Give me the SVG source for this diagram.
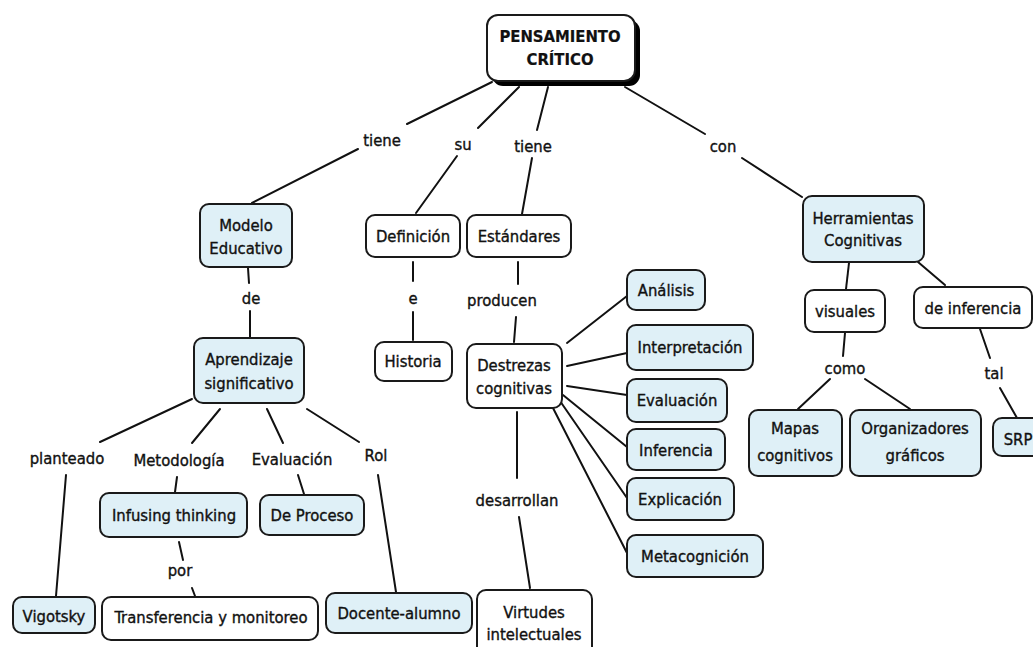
<svg xmlns="http://www.w3.org/2000/svg" width="1033" height="647" viewBox="0 0 1033 647">
<style>
  text { font-family: "DejaVu Sans Condensed", "DejaVu Sans", "Liberation Sans", sans-serif; font-stretch: condensed; font-size: 16.5px; fill: #111; stroke: #111; stroke-width: 0.35; text-anchor: middle; }
  .title { font-weight: bold; stroke-width: 0.2; }
  .n { fill: #ffffff; stroke: #1a1a1a; stroke-width: 2; }
  .b { fill: #dff0f7; stroke: #1a1a1a; stroke-width: 2; }
  .shadow { fill: #000; }
  #connectors line { stroke: #111; stroke-width: 2; stroke-linecap: round; }
</style>
<rect width="1033" height="647" fill="#ffffff"/>
<g id="connectors">
  <line x1="492" y1="82" x2="407" y2="124"/>
  <line x1="358" y1="149" x2="252" y2="203"/>
  <line x1="519" y1="87" x2="478" y2="128"/>
  <line x1="457" y1="156" x2="416" y2="213"/>
  <line x1="548" y1="87" x2="537" y2="130"/>
  <line x1="532" y1="158" x2="522" y2="214"/>
  <line x1="625" y1="87" x2="705" y2="134"/>
  <line x1="742" y1="158" x2="802" y2="197"/>
  <line x1="248" y1="268" x2="249" y2="283"/>
  <line x1="250" y1="311" x2="250" y2="337"/>
  <line x1="413" y1="262" x2="413" y2="281"/>
  <line x1="413" y1="312" x2="413" y2="340"/>
  <line x1="518" y1="262" x2="518" y2="284"/>
  <line x1="516" y1="317" x2="514" y2="342"/>
  <line x1="517" y1="412" x2="517" y2="478"/>
  <line x1="519" y1="517" x2="530" y2="588"/>
  <line x1="567" y1="343" x2="627" y2="296"/>
  <line x1="567" y1="366" x2="627" y2="353"/>
  <line x1="567" y1="386" x2="627" y2="395"/>
  <line x1="563" y1="395" x2="627" y2="447"/>
  <line x1="560" y1="401" x2="627" y2="498"/>
  <line x1="553" y1="408" x2="627" y2="553"/>
  <line x1="192" y1="399" x2="100" y2="442"/>
  <line x1="220" y1="409" x2="192" y2="443"/>
  <line x1="267" y1="409" x2="283" y2="443"/>
  <line x1="307" y1="409" x2="359" y2="442"/>
  <line x1="66" y1="475" x2="56" y2="596"/>
  <line x1="177" y1="477" x2="175" y2="492"/>
  <line x1="298" y1="475" x2="304" y2="494"/>
  <line x1="378" y1="475" x2="396" y2="592"/>
  <line x1="179" y1="542" x2="183" y2="560"/>
  <line x1="192" y1="588" x2="195" y2="596"/>
  <line x1="849" y1="263" x2="846" y2="289"/>
  <line x1="918" y1="262" x2="945" y2="285"/>
  <line x1="845" y1="333" x2="843" y2="356"/>
  <line x1="830" y1="379" x2="798" y2="409"/>
  <line x1="865" y1="379" x2="910" y2="409"/>
  <line x1="980" y1="329" x2="990" y2="358"/>
  <line x1="1000" y1="388" x2="1017" y2="418"/>
  <text x="382" y="146">tiene</text>
  <text x="463" y="150">su</text>
  <text x="533" y="152">tiene</text>
  <text x="723" y="152">con</text>
  <text x="251" y="304">de</text>
  <text x="413" y="304">e</text>
  <text x="502" y="306">producen</text>
  <text x="517" y="506">desarrollan</text>
  <text x="67" y="464">planteado</text>
  <text x="179" y="466">Metodología</text>
  <text x="292" y="465">Evaluación</text>
  <text x="376" y="461">Rol</text>
  <text x="180" y="576">por</text>
  <text x="845" y="374">como</text>
  <text x="994" y="379">tal</text>
</g>
<g id="pensamiento">
  <rect class="shadow" x="492" y="20" width="148" height="66" rx="11"/>
  <rect class="n" x="487" y="15" width="148" height="66" rx="11"/>
  <text class="title" x="560" y="42">PENSAMIENTO</text>
  <text class="title" x="560" y="65">CRÍTICO</text>
</g>
<g id="modelo">
  <rect class="b" x="200" y="204" width="92" height="63" rx="9"/>
  <text x="246" y="231">Modelo</text>
  <text x="246" y="254">Educativo</text>
</g>
<g id="definicion">
  <rect class="n" x="366" y="215" width="94" height="42" rx="9"/>
  <text x="413" y="242">Definición</text>
</g>
<g id="estandares">
  <rect class="n" x="467" y="215" width="104" height="42" rx="9"/>
  <text x="519" y="242">Estándares</text>
</g>
<g id="historia">
  <rect class="n" x="375" y="342" width="77" height="39" rx="9"/>
  <text x="413" y="367">Historia</text>
</g>
<g id="aprendizaje">
  <rect class="b" x="194" y="338" width="110" height="65" rx="9"/>
  <text x="249" y="365">Aprendizaje</text>
  <text x="249" y="389">significativo</text>
</g>
<g id="destrezas">
  <rect class="n" x="467" y="344" width="95" height="64" rx="9"/>
  <text x="514" y="371">Destrezas</text>
  <text x="514" y="394">cognitivas</text>
</g>
<g id="analisis">
  <rect class="b" x="627" y="270" width="78" height="40" rx="9"/>
  <text x="666" y="296">Análisis</text>
</g>
<g id="interpretacion">
  <rect class="b" x="627" y="325" width="126" height="45" rx="9"/>
  <text x="690" y="353">Interpretación</text>
</g>
<g id="evaluacion">
  <rect class="b" x="627" y="379" width="100" height="43" rx="9"/>
  <text x="677" y="406">Evaluación</text>
</g>
<g id="inferencia">
  <rect class="b" x="627" y="429" width="98" height="41" rx="9"/>
  <text x="676" y="456">Inferencia</text>
</g>
<g id="explicacion">
  <rect class="b" x="627" y="478" width="107" height="42" rx="9"/>
  <text x="680" y="505">Explicación</text>
</g>
<g id="metacognicion">
  <rect class="b" x="627" y="535" width="136" height="42" rx="9"/>
  <text x="695" y="562">Metacognición</text>
</g>
<g id="virtudes">
  <rect class="n" x="477" y="590" width="115" height="72" rx="9"/>
  <text x="534" y="618">Virtudes</text>
  <text x="534" y="640">intelectuales</text>
</g>
<g id="herramientas">
  <rect class="b" x="803" y="196" width="121" height="66" rx="9"/>
  <text x="863" y="224">Herramientas</text>
  <text x="863" y="246">Cognitivas</text>
</g>
<g id="visuales">
  <rect class="n" x="805" y="290" width="80" height="42" rx="9"/>
  <text x="845" y="317">visuales</text>
</g>
<g id="deinferencia">
  <rect class="n" x="914" y="287" width="118" height="41" rx="9"/>
  <text x="973" y="314">de inferencia</text>
</g>
<g id="mapas">
  <rect class="b" x="749" y="410" width="93" height="66" rx="9"/>
  <text x="795" y="434">Mapas</text>
  <text x="795" y="461">cognitivos</text>
</g>
<g id="organizadores">
  <rect class="b" x="850" y="410" width="131" height="66" rx="9"/>
  <text x="915" y="434">Organizadores</text>
  <text x="915" y="461">gráficos</text>
</g>
<g id="srp">
  <rect class="b" x="993" y="418" width="60" height="38" rx="9"/>
  <text x="1018" y="445">SRP</text>
</g>
<g id="infusing">
  <rect class="b" x="100" y="493" width="147" height="44" rx="9"/>
  <text x="174" y="521">Infusing thinking</text>
</g>
<g id="deproceso">
  <rect class="b" x="260" y="495" width="104" height="40" rx="9"/>
  <text x="312" y="521">De Proceso</text>
</g>
<g id="vigotsky">
  <rect class="b" x="13" y="597" width="82" height="36" rx="9"/>
  <text x="54" y="622">Vigotsky</text>
</g>
<g id="transferencia">
  <rect class="n" x="102" y="597" width="216" height="43" rx="9"/>
  <text x="211" y="623">Transferencia y monitoreo</text>
</g>
<g id="docente">
  <rect class="b" x="326" y="593" width="146" height="40" rx="9"/>
  <text x="399" y="619">Docente-alumno</text>
</g>
</svg>
